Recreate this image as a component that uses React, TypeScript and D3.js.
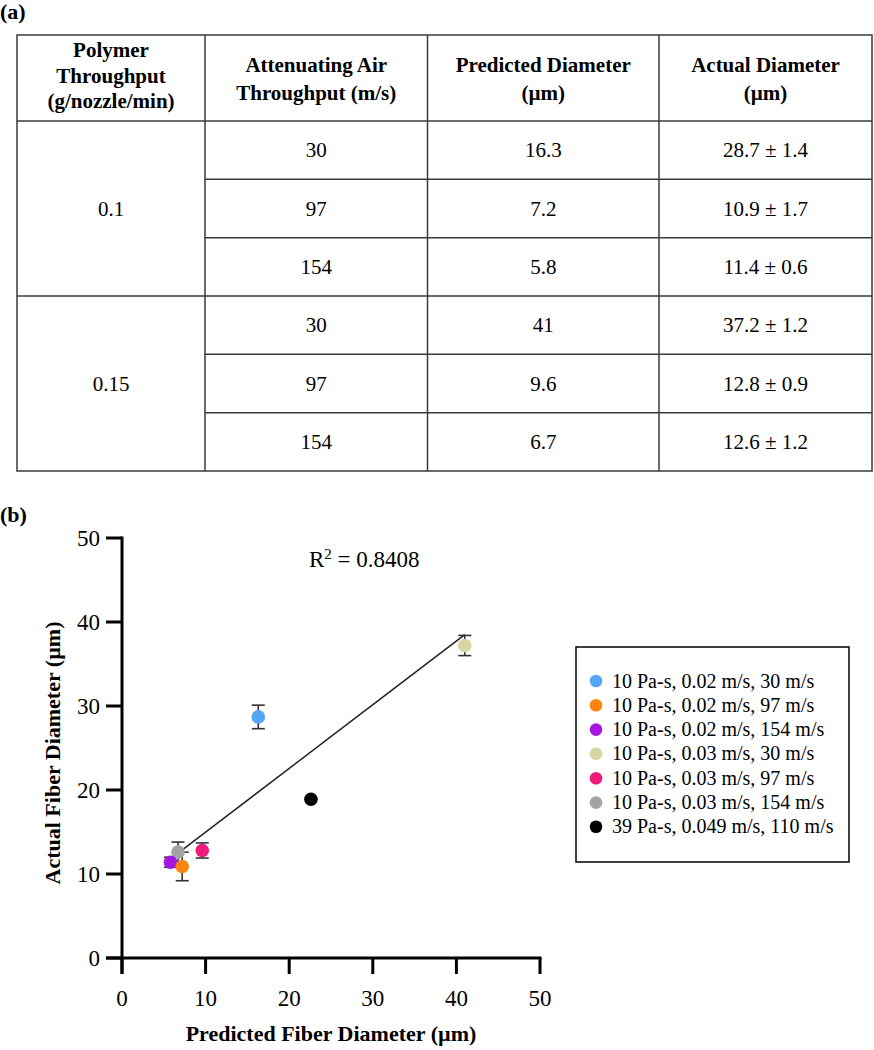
import React from "react";
import * as d3 from "d3";

// ---------- Table data ----------
const polymerThroughput = ["0.1", "0.15"];
const airThroughput = [30, 97, 154, 30, 97, 154];
const predictedDiameter = ["16.3", "7.2", "5.8", "41", "9.6", "6.7"];
const actualMean = ["28.7", "10.9", "11.4", "37.2", "12.8", "12.6"];
const actualSD = ["1.4", "1.7", "0.6", "1.2", "0.9", "1.2"];
const headerCol1 = ["Polymer", "Throughput", "(g/nozzle/min)"];
const headerCol2 = ["Attenuating Air", "Throughput (m/s)"];
const headerCol3 = ["Predicted Diameter", "(µm)"];
const headerCol4 = ["Actual Diameter", "(µm)"];

// ---------- Chart data ----------
const seriesLabels = [
  "10 Pa-s, 0.02 m/s, 30 m/s",
  "10 Pa-s, 0.02 m/s, 97 m/s",
  "10 Pa-s, 0.02 m/s, 154 m/s",
  "10 Pa-s, 0.03 m/s, 30 m/s",
  "10 Pa-s, 0.03 m/s, 97 m/s",
  "10 Pa-s, 0.03 m/s, 154 m/s",
  "39 Pa-s, 0.049 m/s, 110 m/s",
];
const seriesColors = ["#55a6f6", "#fc8511", "#a516e0", "#d6d6a4", "#f01a7b", "#a3a3a6", "#000000"];
const pointX = [16.3, 7.2, 5.8, 41, 9.6, 6.7, 22.6];
const pointY = [28.7, 10.9, 11.4, 37.2, 12.8, 12.6, 18.9];
const pointErr = [1.4, 1.7, 0.6, 1.2, 0.9, 1.2, 0];
const fitLineX = [5.8, 41];
const fitLineY = [11.8, 38.5];
const xTicks = [0, 10, 20, 30, 40, 50];
const yTicks = [0, 10, 20, 30, 40, 50];
const rSquared = "0.8408";

const SERIF = "'Liberation Serif', 'Times New Roman', Times, serif";
const ff = { fontFamily: SERIF };

export default function App() {
  // table layout
  const colEdges = [17, 205, 427.5, 659, 872];
  const tableTop = 35;
  const headerBottom = 121;
  const tableBottom = 471;
  const rowY = d3.scaleLinear().domain([0, 6]).range([headerBottom, tableBottom]);
  const colCenter = (i: number) => (colEdges[i] + colEdges[i + 1]) / 2;
  const lineColor = "#3a3a3a";

  // chart layout
  const x = d3.scaleLinear().domain([0, 50]).range([122, 540]);
  const y = d3.scaleLinear().domain([0, 50]).range([958, 538]);
  const tickLen = 16;

  const drawOrder = [6, 4, 3, 0, 5, 2, 1];

  return (
    <svg
      width={874}
      height={1050}
      style={{ position: "absolute", left: 0, top: 0, background: "#fff", fontFamily: SERIF }}
    >
      <rect x={0} y={0} width={874} height={1050} fill="#fff" />
      {/* (a) */}
      <text x={0} y={19} fontSize={22} fontWeight="bold" style={ff}>(a)</text>

      {/* table outer + lines */}
      <g stroke={lineColor} strokeWidth={1.5} fill="none">
        <rect x={colEdges[0]} y={tableTop} width={colEdges[4] - colEdges[0]} height={tableBottom - tableTop} />
        {colEdges.slice(1, 4).map((cx, i) => (
          <line key={"c" + i} x1={cx} x2={cx} y1={tableTop} y2={tableBottom} />
        ))}
        <line x1={colEdges[0]} x2={colEdges[4]} y1={headerBottom} y2={headerBottom} />
        <line x1={colEdges[0]} x2={colEdges[4]} y1={rowY(3)} y2={rowY(3)} />
        {[1, 2, 4, 5].map((r) => (
          <line key={"r" + r} x1={colEdges[1]} x2={colEdges[4]} y1={rowY(r)} y2={rowY(r)} />
        ))}
      </g>

      {/* header text */}
      <g fontSize={21} fontWeight="bold" textAnchor="middle">
        {headerCol1.map((t, i) => (
          <text key={"h1" + i} x={colCenter(0)} y={57 + i * 25.5} style={ff}>{t}</text>
        ))}
        {headerCol2.map((t, i) => (
          <text key={"h2" + i} x={colCenter(1)} y={72 + i * 27.5} style={ff}>{t}</text>
        ))}
        {headerCol3.map((t, i) => (
          <text key={"h3" + i} x={colCenter(2)} y={72 + i * 27.5} style={ff}>{t}</text>
        ))}
        {headerCol4.map((t, i) => (
          <text key={"h4" + i} x={colCenter(3)} y={72 + i * 27.5} style={ff}>{t}</text>
        ))}
      </g>

      {/* body text */}
      <g fontSize={21} textAnchor="middle">
        {polymerThroughput.map((t, i) => (
          <text key={"p" + i} x={colCenter(0)} y={(rowY(i * 3) + rowY(i * 3 + 3)) / 2 + 7} style={ff}>{t}</text>
        ))}
        {airThroughput.map((v, i) => (
          <text key={"a" + i} x={colCenter(1)} y={(rowY(i) + rowY(i + 1)) / 2 + 7} style={ff}>{v}</text>
        ))}
        {predictedDiameter.map((v, i) => (
          <text key={"d" + i} x={colCenter(2)} y={(rowY(i) + rowY(i + 1)) / 2 + 7} style={ff}>{v}</text>
        ))}
        {actualMean.map((v, i) => (
          <text key={"m" + i} x={colCenter(3)} y={(rowY(i) + rowY(i + 1)) / 2 + 7} style={ff}>{`${v} ± ${actualSD[i]}`}</text>
        ))}
      </g>

      {/* (b) */}
      <text x={0} y={522} fontSize={22} fontWeight="bold" style={ff}>(b)</text>

      {/* axes */}
      <g stroke="#000" strokeWidth={3} fill="none" strokeLinecap="butt">
        <line x1={x(0)} x2={x(0)} y1={y(50) - 1.5} y2={y(0) + tickLen} />
        <line x1={x(0) - tickLen} x2={x(50) + 1.5} y1={y(0)} y2={y(0)} />
        {yTicks.map((t) => (
          <line key={"yt" + t} x1={x(0) - tickLen} x2={x(0)} y1={y(t)} y2={y(t)} />
        ))}
        {xTicks.map((t) => (
          <line key={"xt" + t} x1={x(t)} x2={x(t)} y1={y(0)} y2={y(0) + tickLen} />
        ))}
      </g>
      <g fontSize={23}>
        {yTicks.map((t) => (
          <text key={"yl" + t} x={100} y={y(t) + 8} textAnchor="end" style={ff}>{t}</text>
        ))}
        {xTicks.map((t) => (
          <text key={"xl" + t} x={x(t)} y={1006} textAnchor="middle" style={ff}>{t}</text>
        ))}
      </g>
      <text x={331} y={1041} fontSize={22} fontWeight="bold" textAnchor="middle" style={ff}>
        Predicted Fiber Diameter (µm)
      </text>
      <text transform="translate(60,753) rotate(-90)" fontSize={22} fontWeight="bold" textAnchor="middle" style={ff}>
        Actual Fiber Diameter (µm)
      </text>

      {/* fit line */}
      <line
        x1={x(fitLineX[0])}
        y1={y(fitLineY[0])}
        x2={x(fitLineX[1])}
        y2={y(fitLineY[1])}
        stroke="#222"
        strokeWidth={1.5}
      />

      {/* R squared */}
      <text x={309} y={567} fontSize={23} style={ff}>
        R<tspan fontSize={15} dy={-8}>2</tspan>
        <tspan dy={8}> = {rSquared}</tspan>
      </text>

      {/* error bars */}
      <g stroke="#333" strokeWidth={1.6}>
        {drawOrder.map((i) =>
          pointErr[i] > 0 ? (
            <g key={"e" + i}>
              <line x1={x(pointX[i])} x2={x(pointX[i])} y1={y(pointY[i] - pointErr[i])} y2={y(pointY[i] + pointErr[i])} />
              <line x1={x(pointX[i]) - 6.5} x2={x(pointX[i]) + 6.5} y1={y(pointY[i] - pointErr[i])} y2={y(pointY[i] - pointErr[i])} />
              <line x1={x(pointX[i]) - 6.5} x2={x(pointX[i]) + 6.5} y1={y(pointY[i] + pointErr[i])} y2={y(pointY[i] + pointErr[i])} />
            </g>
          ) : null
        )}
      </g>

      {/* points */}
      {drawOrder.map((i) => (
        <circle key={"pt" + i} cx={x(pointX[i])} cy={y(pointY[i])} r={6.8} fill={seriesColors[i]} />
      ))}

      {/* legend */}
      <rect x={576} y={647} width={273} height={215} fill="#fff" stroke="#000" strokeWidth={1.5} />
      {seriesLabels.map((s, i) => (
        <g key={"lg" + i}>
          <circle cx={596} cy={681 + i * 24.3} r={6.3} fill={seriesColors[i]} />
          <text x={612} y={681 + i * 24.3 + 6.5} fontSize={20} style={ff}>{s}</text>
        </g>
      ))}
    </svg>
  );
}
